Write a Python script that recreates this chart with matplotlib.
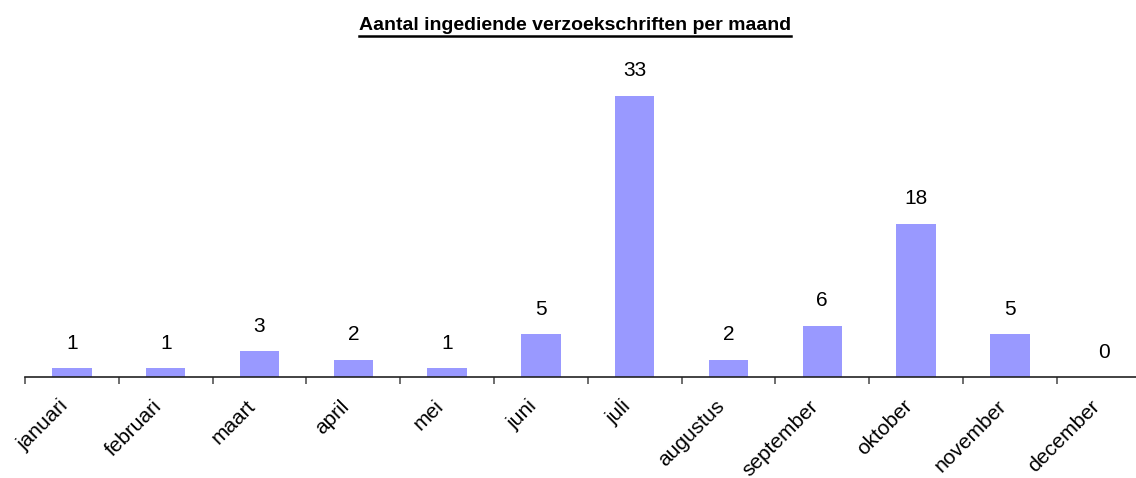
import matplotlib.pyplot as plt
from matplotlib.lines import Line2D
from matplotlib.ticker import FixedLocator

plt.rcParams['font.family'] = ['Liberation Sans', 'DejaVu Sans']

maanden = ['januari', 'februari', 'maart', 'april', 'mei', 'juni', 'juli',
           'augustus', 'september', 'oktober', 'november', 'december']
aantal = [1, 1, 3, 2, 1, 5, 33, 2, 6, 18, 5, 0]

W, H = 1136, 478
fig = plt.figure(figsize=(W / 100, H / 100), dpi=100)

# axes in pixels: left 25, baseline at y=377, rechterkant loopt buiten beeld
links, basis, breedte, top = 25, 377, 12 * 93.8, 40
ax = fig.add_axes([links / W, (H - basis) / H, breedte / W, (basis - top) / H])
px_per_eenheid = 281 / 33

x = list(range(len(maanden)))
ax.bar(x, aantal, width=0.42, color='#9999FF')
ax.set_xlim(-0.5, len(maanden) - 0.5)
ax.set_ylim(0, (basis - top) / px_per_eenheid)

for xi, v in zip(x, aantal):
    ax.annotate(str(v), (xi, v), xytext=(0, 18), textcoords='offset points',
                ha='center', va='center', fontsize=15)

ax.set_xticks(x)
ax.set_xticklabels(maanden, rotation=45, ha='right', va='top', fontsize=15)
ax.tick_params(axis='x', which='major', length=0, pad=14)
ax.xaxis.set_minor_locator(FixedLocator([i - 0.5 for i in range(len(maanden) + 1)]))
ax.tick_params(axis='x', which='minor', length=5, width=1.2, color='#555555',
               direction='out')
ax.set_yticks([])
for s in ['left', 'right', 'top']:
    ax.spines[s].set_visible(False)
ax.spines['bottom'].set_linewidth(1.2)
ax.spines['bottom'].set_color('#222222')

titel = fig.text(575 / W, 1 - 26 / H, 'Aantal ingediende verzoekschriften per maand',
                 ha='center', va='center', fontsize=14, fontweight='bold')

# onderstreping van de titel
fig.canvas.draw()
bb = titel.get_window_extent()
y_lijn = (bb.y0 - 1) / H
fig.add_artist(Line2D([bb.x0 / W, bb.x1 / W], [y_lijn, y_lijn], color='black', lw=1.8))

fig.savefig('out.png', dpi=100)
